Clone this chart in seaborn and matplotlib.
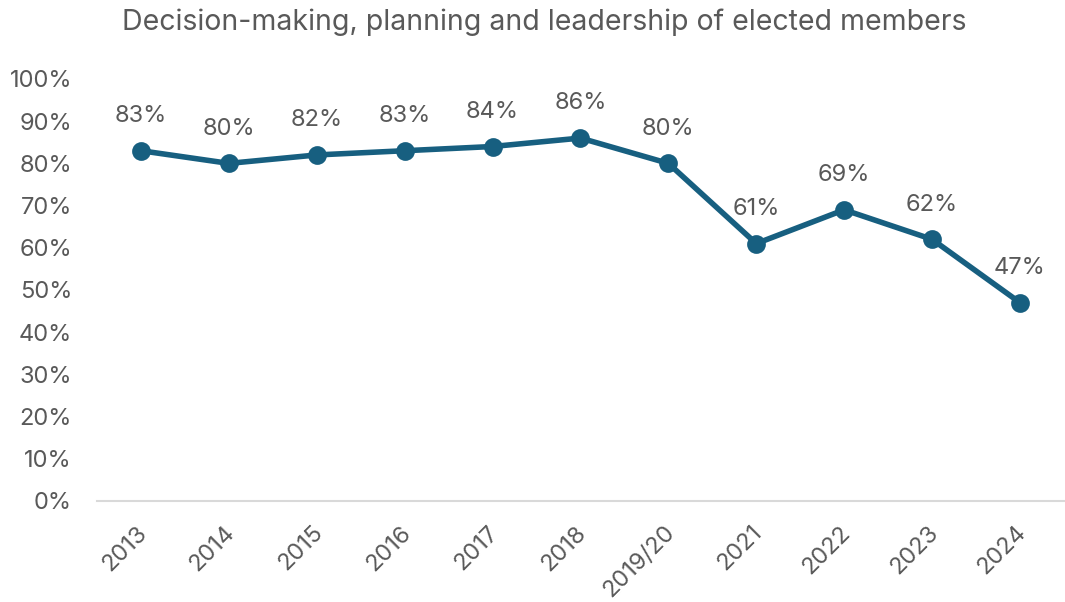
import matplotlib
matplotlib.use("Agg")
import matplotlib.pyplot as plt
import matplotlib.transforms as mtransforms
import seaborn as sns
import pandas as pd

years = ["2013", "2014", "2015", "2016", "2017", "2018", "2019/20",
         "2021", "2022", "2023", "2024"]
scores = [0.83, 0.80, 0.82, 0.83, 0.84, 0.86, 0.80, 0.61, 0.69, 0.62, 0.47]
y_ticks = [0.0, 0.1, 0.2, 0.3, 0.4, 0.5, 0.6, 0.7, 0.8, 0.9, 1.0]
title = "Decision-making, planning and leadership of elected members"

sns.set_theme(style="white")
plt.rcParams["font.family"] = ["Inter", "DejaVu Sans"]

line_color = "#175f80"
text_color = "#595959"

df = pd.DataFrame({"year": years, "score": scores})

fig = plt.figure(figsize=(10.65, 6.02), dpi=100)
ax = fig.add_axes([0.0911, 0.1678, 0.9079, 0.7010])

sns.pointplot(data=df, x="year", y="score", ax=ax, color=line_color,
              markers="o", linestyles="-", markersize=10.5, linewidth=4)

ax.set_ylim(0, 1)
ax.set_xlim(-0.5, len(years) - 0.5)
ax.set_yticks(y_ticks)
ax.set_yticklabels([f"{int(round(v * 100))}%" for v in y_ticks])
ax.set_xlabel("")
ax.set_ylabel("")

for i, v in enumerate(scores):
    ax.annotate(f"{int(round(v * 100))}%", (i, v), xytext=(0, 25),
                textcoords="offset points", ha="center", va="center",
                fontsize=17, color=text_color)

for side in ["top", "right", "left"]:
    ax.spines[side].set_visible(False)
ax.spines["bottom"].set_color("#d9d9d9")
ax.spines["bottom"].set_linewidth(1.5)

ax.tick_params(axis="y", length=0, labelsize=17, labelcolor=text_color, pad=18)
ax.tick_params(axis="x", length=0, labelsize=17, labelcolor=text_color, pad=15)
shift = mtransforms.ScaledTranslation(-5 / 100, 0, fig.dpi_scale_trans)
for lab in ax.get_xticklabels():
    lab.set_rotation(45)
    lab.set_ha("right")
    lab.set_va("top")
    lab.set_rotation_mode("anchor")
    lab.set_transform(lab.get_transform() + shift)

fig.text(0.511, 0.963, title, ha="center", va="center", fontsize=20.5,
         color=text_color)

fig.savefig("out.png", dpi=100)
